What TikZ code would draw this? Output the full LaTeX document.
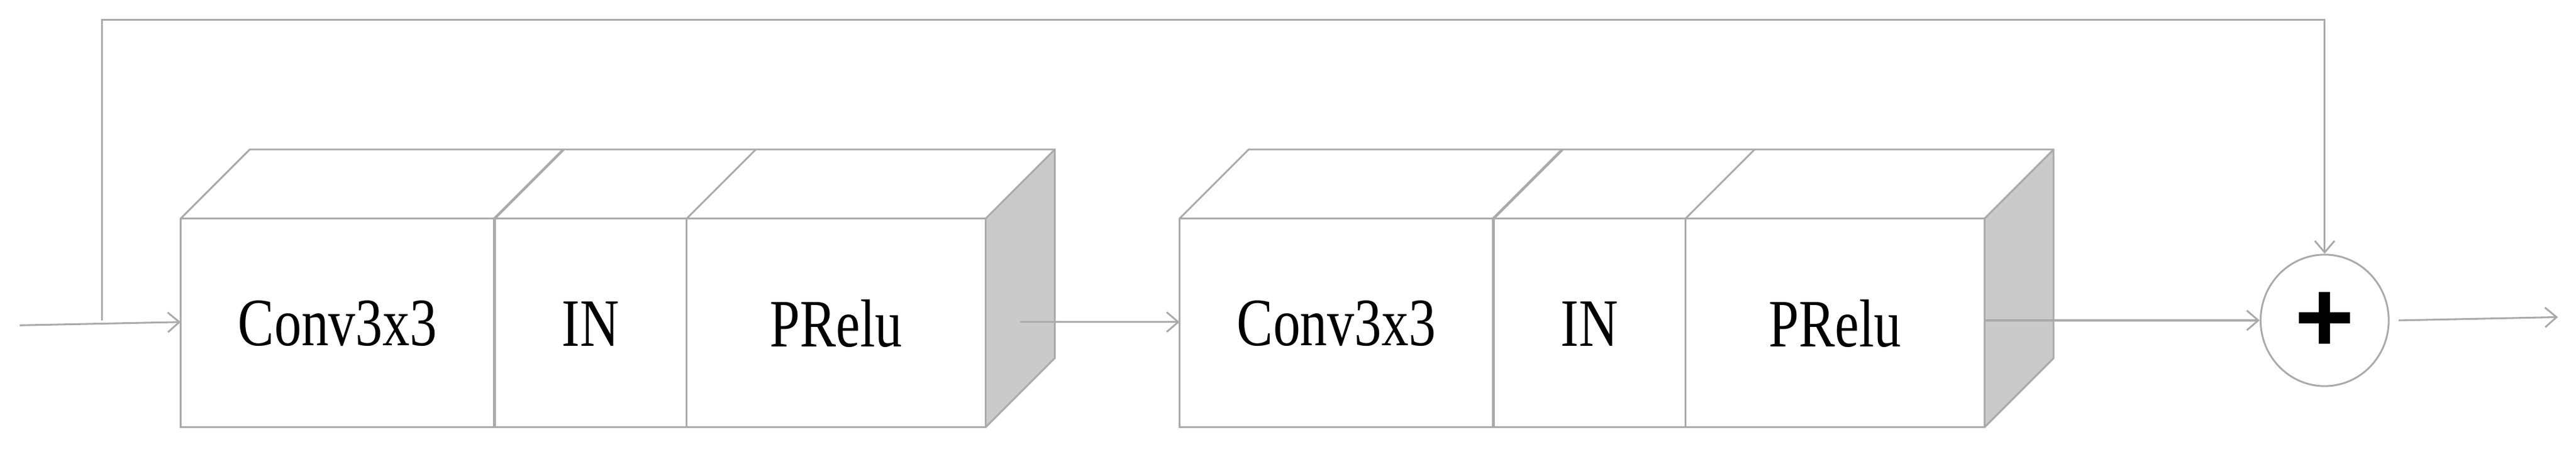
\documentclass[tikz,border=0pt]{standalone}
\usepackage{fontspec}
\setmainfont{Liberation Serif}
\newfontfamily\plusfont{Liberation Sans}
\usetikzlibrary{arrows.meta,shapes.geometric}
\definecolor{ln}{HTML}{AAAAAA}
\definecolor{sh}{HTML}{CACACA}
\begin{document}
\begin{tikzpicture}[x=1pt,y=-1pt,line width=1.1pt,
  ed/.style={draw=ln,line join=miter},
  lbl/.style={font=\fontsize{33}{40}\selectfont},
  arr/.style={draw=ln,-{Straight Barb[length=7pt,width=12pt,line width=1.1pt]}}]
\useasboundingbox (0,0) rectangle (1568,276);
\foreach \o/\n in {0/a,608/b}{
  \begin{scope}[xshift=\o pt]
  \fill[sh] (600,133) -- (642,91) -- (642,218) -- (600,260) -- cycle;
  \draw[ed] (110,133) -- (152,91) -- (642,91) -- (642,218) -- (600,260) -- (110,260) -- cycle;
  \draw[ed] (110,133) -- (600,133) -- (642,91);
  \draw[ed] (600,133) -- (600,260);
  \draw[ed,line width=1.6pt] (301,133) -- (343,91);
  \draw[ed,line width=1.6pt] (301,133) -- (301,260);
  \draw[ed] (418,133) -- (460,91);
  \draw[ed] (418,133) -- (418,260);
  \node[lbl] (\n1) at (205.5,197) {\scalebox{1}[1.25]{Conv3x3}};
  \node[lbl] (\n2) at (359.5,197) {\scalebox{1}[1.25]{IN}};
  \node[lbl] (\n3) at (509,197) {\scalebox{1}[1.25]{PRelu}};
  \coordinate (\n in) at (110,196);
  \coordinate (\n out) at (621,196);
  \end{scope}}
\node[ellipse,draw=ln,minimum width=78pt,minimum height=80pt,inner sep=0pt] (sum) at (1415,195) {};
\node[font=\plusfont\bfseries\fontsize{62}{62}\selectfont] at (1415,196) {+};
\coordinate (in) at (12,198);
\coordinate (sk) at (62,195);
\coordinate (out) at (1557,193);
\coordinate (bo) at (1208,195);
\draw[arr] (in) -- (ain);
\draw[arr] (aout) -- (bin);
\draw[arr] (bo) -- (sum.west);
\draw[arr] (sk) -- (62,12) -- (1415,12) -- (sum.north);
\draw[arr] (1460,195) -- (out);
\end{tikzpicture}
\end{document}
